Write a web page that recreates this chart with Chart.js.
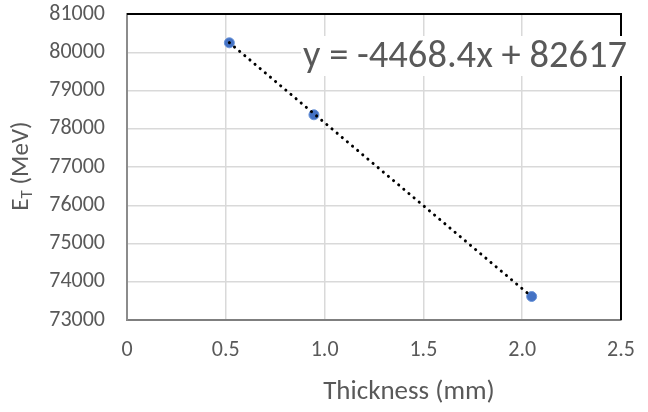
<!DOCTYPE html>
<html>
<head>
<meta charset="utf-8">
<script src="https://cdn.jsdelivr.net/npm/chart.js@4"></script>
<style>
  html, body { margin: 0; padding: 0; background: #fff; }
  #wrap { width: 648px; height: 412px; position: relative; }
</style>
</head>
<body>
<div id="wrap"><canvas id="chart"></canvas></div>
<script>
// data
const thickness = [0.518, 0.946, 2.048];
const energy = [80247, 78365, 73614];

// dotted linear trendline (y = -4468.4x + 82617), end points as drawn
const trendX = [0.518, 2.048];
const trendY = [80250, 73610];
const equation = "y = -4468.4x + 82617";

const xTicks = [0, 0.5, 1, 1.5, 2, 2.5];
const yTicks = [73000, 74000, 75000, 76000, 77000, 78000, 79000, 80000, 81000];

const FONT = "Carlito, Lato, sans-serif";
const GREY = "#595959";

// plot frame + axis titles + equation label
const extras = {
  id: "extras",
  afterDatasetsDraw(c) {
    const ctx = c.ctx;
    const a = c.chartArea;
    ctx.save();
    // black top / right edges
    ctx.strokeStyle = "#000";
    ctx.lineWidth = 2;
    ctx.beginPath();
    ctx.moveTo(a.left, a.top);
    ctx.lineTo(a.right, a.top);
    ctx.lineTo(a.right, a.bottom);
    ctx.stroke();

    // equation box
    ctx.font = "38.5px " + FONT;
    const w = ctx.measureText(equation).width;
    const cx = 465;
    ctx.fillStyle = "#fff";
    ctx.fillRect(cx - w / 2 - 2, 36, w + 4, 40);
    ctx.fillStyle = GREY;
    ctx.textAlign = "center";
    ctx.textBaseline = "alphabetic";
    ctx.fillText(equation, cx, 67);

    // x title
    ctx.font = "27px " + FONT;
    ctx.fillText("Thickness (mm)", 409, 399);

    // y title with subscript
    ctx.translate(28, 166);
    ctx.rotate(-Math.PI / 2);
    ctx.textAlign = "left";
    ctx.font = "25px " + FONT;
    const e = ctx.measureText("E").width;
    ctx.font = "17px " + FONT;
    const t = ctx.measureText("T").width;
    ctx.font = "25px " + FONT;
    const rest = ctx.measureText(" (MeV)").width;
    const x0 = -(e + t + rest) / 2;
    ctx.fillText("E", x0, 0);
    ctx.font = "17px " + FONT;
    ctx.fillText("T", x0 + e, 4);
    ctx.font = "25px " + FONT;
    ctx.fillText(" (MeV)", x0 + e + t, 0);
    ctx.restore();
  }
};

new Chart(document.getElementById("chart"), {
  type: "scatter",
  data: {
    datasets: [
      {
        type: "line",
        data: trendX.map((x, i) => ({ x, y: trendY[i] })),
        borderColor: "#000",
        borderWidth: 3,
        borderDash: [0.1, 6.6],
        borderCapStyle: "round",
        pointRadius: 0,
        fill: false,
        order: 0
      },
      {
        data: thickness.map((x, i) => ({ x, y: energy[i] })),
        backgroundColor: "#4472C4",
        borderColor: "#6a94d8",
        borderWidth: 1,
        pointRadius: 5,
        order: 1
      }
    ]
  },
  options: {
    responsive: true,
    maintainAspectRatio: false,
    animation: false,
    layout: { padding: { left: 0, right: 27, top: 14, bottom: 0 } },
    plugins: { legend: { display: false }, tooltip: { enabled: false } },
    scales: {
      x: {
        type: "linear",
        min: 0, max: 2.5,
        afterBuildTicks: s => { s.ticks = xTicks.map(v => ({ value: v })); },
        afterFit: s => { s.height = 92; s.paddingLeft = 0; s.paddingRight = 0; },
        ticks: { color: GREY, font: { family: FONT, size: 22 }, padding: 17 },
        grid: { color: "#d9d9d9", lineWidth: 1.5, drawTicks: false },
        border: { color: "#7f7f7f", width: 2 }
      },
      y: {
        min: 73000, max: 81000,
        afterBuildTicks: s => { s.ticks = yTicks.map(v => ({ value: v })); },
        afterFit: s => { s.width = 127; s.paddingTop = 0; s.paddingBottom = 0; },
        ticks: { color: GREY, font: { family: FONT, size: 22 }, padding: 22, callback: v => String(v) },
        grid: { color: "#d9d9d9", lineWidth: 1.5, drawTicks: false },
        border: { color: "#8c8c8c", width: 2 }
      }
    }
  },
  plugins: [extras]
});
</script>
</body>
</html>
